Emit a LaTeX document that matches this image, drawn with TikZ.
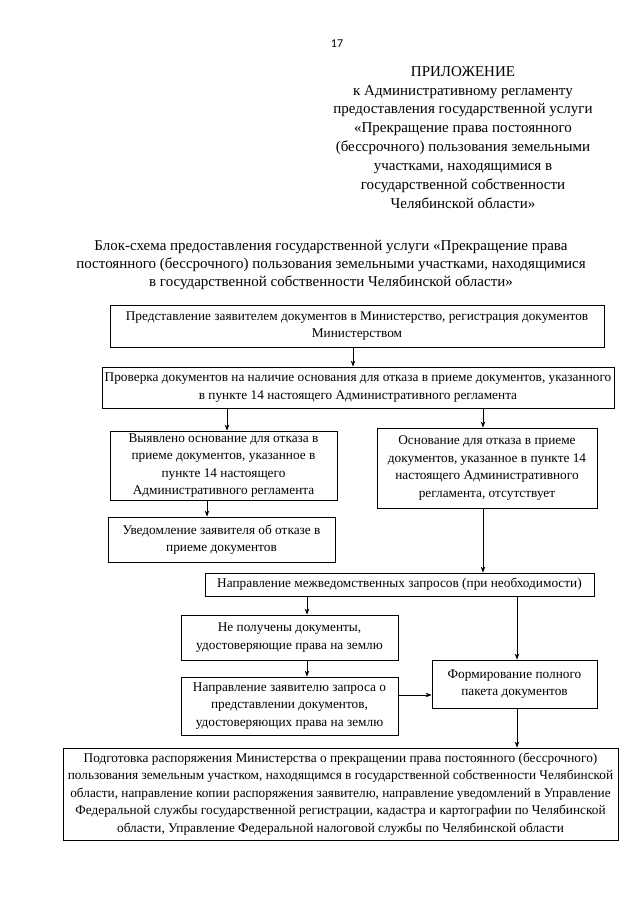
\documentclass[tikz,border=0pt]{standalone}
\usepackage{fontspec}
\setmainfont{Liberation Serif}
\newfontfamily\pagenumfont{Carlito}
\usetikzlibrary{arrows.meta}
\begin{document}
\begin{tikzpicture}[x=1pt,y=-1pt,
  box/.style={draw,line width=0.8pt,align=center,inner sep=0pt,
    font=\fontsize{13.3}{17.6}\selectfont},
  arr/.style={-{Stealth[length=6pt,width=4.5pt]},line width=0.8pt},
  hdr/.style={align=center,inner sep=0pt,font=\fontsize{15}{18.9}\selectfont}]
\useasboundingbox[fill=white] (0,0) rectangle (640,905);

\node[inner sep=0pt,font=\pagenumfont\fontsize{12}{14}\selectfont] (pg) at (337,44) {17};

\node[hdr,anchor=north] (head) at (463,66) {ПРИЛОЖЕНИЕ\\
к Административному регламенту\\
предоставления государственной услуги\\
«Прекращение права постоянного\\
(бессрочного) пользования земельными\\
участками, находящимися в\\
государственной собственности\\
Челябинской области»};

\node[hdr,anchor=north,font=\fontsize{15}{18}\selectfont] (title) at (331,240) {Блок-схема предоставления государственной услуги «Прекращение права\\
постоянного (бессрочного) пользования земельными участками, находящимися\\
в государственной собственности Челябинской области»};

\node[box,minimum width=494pt,minimum height=42pt] (b1) at (357,326)
 {Представление заявителем документов в Министерство, регистрация документов\\ Министерством};
\node[box,minimum width=512pt,minimum height=41pt] (b2) at (358,387.5)
 {Проверка документов на наличие основания для отказа в приеме документов, указанного\\ в пункте 14 настоящего Административного регламента};
\node[box,minimum width=227pt,minimum height=69pt] (b3) at (223.5,465.5)
 {Выявлено основание для отказа в\\ приеме документов, указанное в\\ пункте 14 настоящего\\ Административного регламента};
\node[box,minimum width=220pt,minimum height=80pt] (br) at (487,468)
 {Основание для отказа в приеме\\ документов, указанное в пункте 14\\ настоящего Административного\\ регламента, отсутствует};
\node[box,minimum width=227pt,minimum height=45pt] (b4) at (221.5,539.5)
 {Уведомление заявителя об отказе в\\ приеме документов};
\node[box,minimum width=389pt,minimum height=23pt] (b5) at (399.5,584.5)
 {Направление межведомственных запросов (при необходимости)};
\node[box,minimum width=217pt,minimum height=45pt] (b6) at (289.5,637.5)
 {Не получены документы,\\ удостоверяющие права на землю};
\node[box,minimum width=165pt,minimum height=48pt] (b7) at (514.5,684)
 {Формирование полного\\ пакета документов};
\node[box,minimum width=217pt,minimum height=58pt] (b8) at (289.5,706)
 {Направление заявителю запроса о\\ представлении документов,\\ удостоверяющих права на землю};
\node[box,minimum width=555pt,minimum height=92pt] (b9) at (340.5,794)
 {Подготовка распоряжения Министерства о прекращении права постоянного (бессрочного)\\
 пользования земельным участком, находящимся в государственной собственности Челябинской\\
 области, направление копии распоряжения заявителю, направление уведомлений в Управление\\
 Федеральной службы государственной регистрации, кадастра и картографии по Челябинской\\
 области, Управление Федеральной налоговой службы по Челябинской области};

\coordinate (xa) at (353,0);
\coordinate (xb) at (227,0);
\coordinate (xc) at (483,0);
\coordinate (xd) at (207,0);
\coordinate (xe) at (307,0);
\coordinate (xf) at (517,0);
\coordinate (yg) at (0,695);

\draw[arr] (b1.south -| xa) -- (b2.north -| xa);
\draw[arr] (b2.south -| xb) -- (b3.north -| xb);
\draw[arr] (b2.south -| xc) -- (br.north -| xc);
\draw[arr] (b3.south -| xd) -- (b4.north -| xd);
\draw[arr] (br.south -| xc) -- (b5.north -| xc);
\draw[arr] (b5.south -| xe) -- (b6.north -| xe);
\draw[arr] (b5.south -| xf) -- (b7.north -| xf);
\draw[arr] (b6.south -| xe) -- (b8.north -| xe);
\draw[arr] (b8.east |- yg) -- (b7.west |- yg);
\draw[arr] (b7.south -| xf) -- (b9.north -| xf);
\end{tikzpicture}
\end{document}
